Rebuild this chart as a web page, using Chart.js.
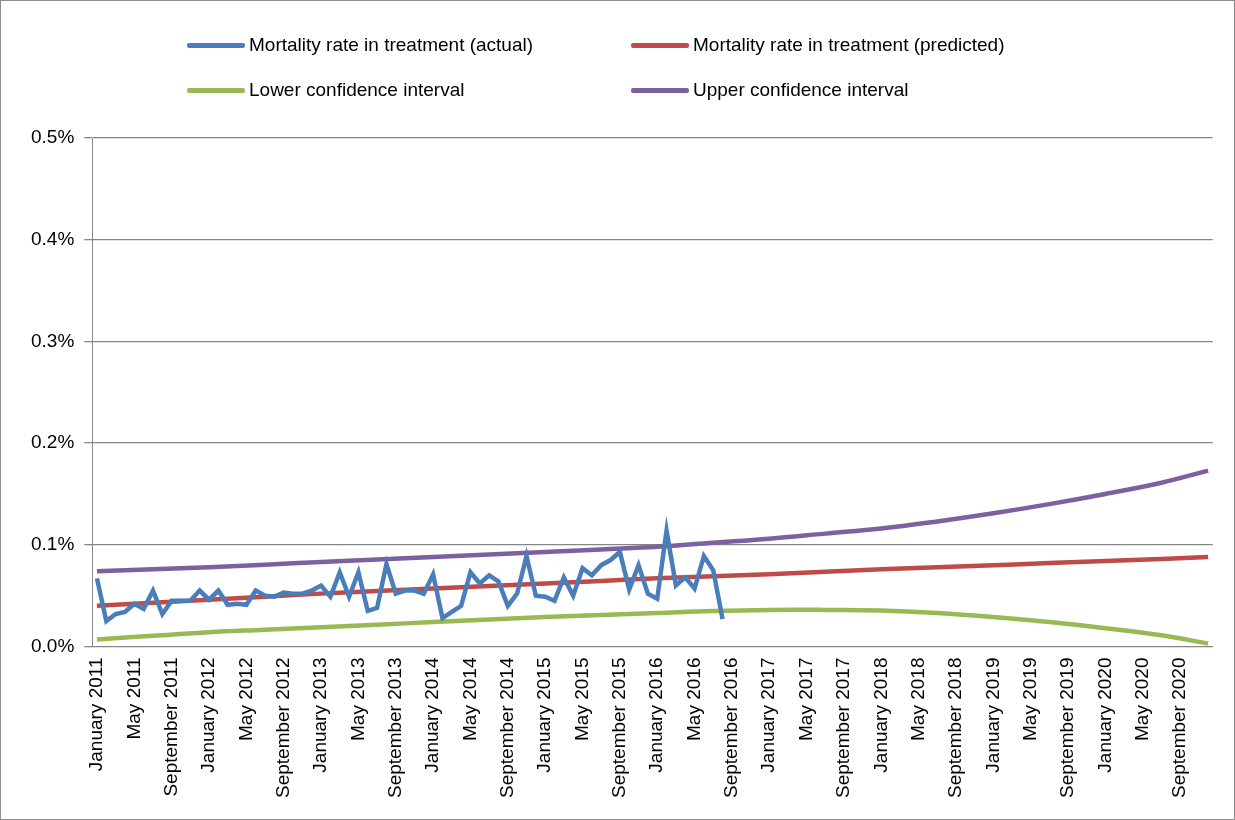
<!DOCTYPE html>
<html><head><meta charset="utf-8">
<script src="https://cdn.jsdelivr.net/npm/chart.js@4"></script>
<style>
body{margin:0;background:#fff;font-family:"Liberation Sans",Arial,sans-serif}
#wrap{position:relative;width:1233px;height:818px;border:1px solid #8c8c8c}
.lg{position:absolute;font-size:19px;color:#000;display:flex;align-items:center}
.lg span{display:inline-block;width:58px;height:5px;margin-right:4px;border-radius:2px}
</style></head><body>
<div id="wrap">
<canvas id="c" width="1233" height="818"></canvas>
<div class="lg" style="left:186px;top:33px"><span style="background:#4a7ebb"></span>Mortality rate in treatment (actual)</div>
<div class="lg" style="left:630px;top:33px"><span style="background:#be4b48"></span>Mortality rate in treatment (predicted)</div>
<div class="lg" style="left:186px;top:78px"><span style="background:#98b954"></span>Lower confidence interval</div>
<div class="lg" style="left:630px;top:78px"><span style="background:#7d60a0"></span>Upper confidence interval</div>
</div>
<script>
const monthNames=["January","February","March","April","May","June","July","August","September","October","November","December"];
const categories=[];
for(let y=2011;y<=2020;y++)for(const m of monthNames)categories.push(m+" "+y);
const actual=[0.067,0.025,0.032,0.034,0.042,0.037,0.055,0.032,0.045,0.045,0.045,0.055,
0.046,0.055,0.041,0.042,0.041,0.055,0.050,0.049,0.053,0.052,0.052,0.055,
0.060,0.049,0.073,0.049,0.073,0.035,0.038,0.081,0.052,0.055,0.055,0.052,
0.071,0.028,0.034,0.040,0.073,0.062,0.070,0.064,0.040,0.052,0.089,0.050,
0.049,0.045,0.068,0.050,0.077,0.070,0.080,0.085,0.093,0.056,0.080,0.052,
0.047,0.114,0.060,0.068,0.057,0.089,0.075,0.027];
// values at every 6th month (index 0,6,...,114) and the last month (119)
const curveIdx=[0,6,12,18,24,30,36,42,48,54,60,66,72,78,84,90,96,102,108,114,119];
const predicted=[0.040,0.043,0.046,0.049,0.052,0.0545,0.057,0.0595,0.062,0.0645,0.067,0.069,0.071,0.0735,0.076,0.078,0.080,0.082,0.084,0.086,0.088];
const lower=[0.007,0.0105,0.014,0.0165,0.019,0.0215,0.024,0.0265,0.029,0.031,0.033,0.035,0.036,0.036,0.0355,0.033,0.029,0.024,0.018,0.011,0.003];
const upper=[0.074,0.076,0.078,0.0805,0.083,0.0855,0.088,0.0905,0.093,0.0955,0.098,0.102,0.106,0.111,0.116,0.123,0.131,0.140,0.150,0.161,0.173];
const yTicks=[0,0.1,0.2,0.3,0.4,0.5];
const pts=a=>a.map((v,i)=>({x:categories[curveIdx[i]],y:v}));
new Chart(document.getElementById('c'),{type:'line',
data:{labels:categories,datasets:[
{data:actual,borderColor:'#4a7ebb',borderWidth:4.5,tension:0,pointRadius:0},
{data:pts(predicted),borderColor:'#be4b48',borderWidth:4.5,tension:0.4,pointRadius:0,spanGaps:true},
{data:pts(lower),borderColor:'#98b954',borderWidth:4.5,tension:0.4,pointRadius:0,spanGaps:true},
{data:pts(upper),borderColor:'#7d60a0',borderWidth:4.5,tension:0.4,pointRadius:0,spanGaps:true}]},
options:{responsive:false,animation:false,
layout:{padding:{top:137,right:20,left:20,bottom:18}},
plugins:{legend:{display:false},tooltip:{enabled:false}},
scales:{
x:{offset:true,grid:{display:false},border:{color:'#868686'},
ticks:{autoSkip:false,minRotation:90,maxRotation:90,color:'#000',font:{family:'Liberation Sans',size:19},
callback:(v,i)=>i%4===0?categories[i]:''}},
y:{min:0,max:0.5,afterBuildTicks:ax=>{ax.ticks=yTicks.map(v=>({value:v}));},
grid:{color:'#868686',lineWidth:1.3},border:{color:'#868686'},
ticks:{color:'#000',font:{family:'Liberation Sans',size:19},padding:10,callback:v=>v.toFixed(1)+'%'}}}}});
</script></body></html>
